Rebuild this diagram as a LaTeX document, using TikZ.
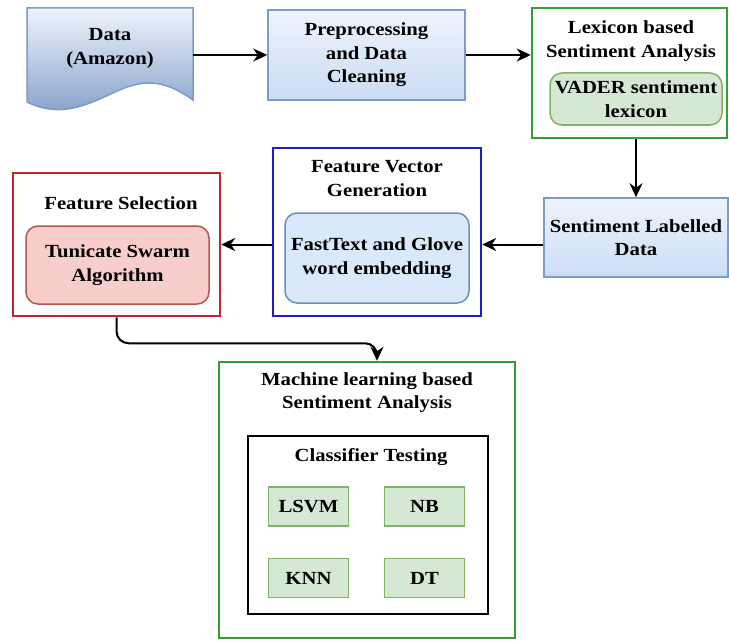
\documentclass[tikz,border=0pt]{standalone}
\usepackage{fontspec}
\setmainfont[FakeStretch=1.12]{Liberation Serif}
\usepackage{tikz}
\usetikzlibrary{positioning, arrows.meta}
\definecolor{outgreen}{RGB}{52,160,52}
\definecolor{outblue}{RGB}{30,30,200}
\definecolor{outred}{RGB}{190,40,40}
\definecolor{ingreenfill}{HTML}{D5E8D4}
\definecolor{ingreendraw}{HTML}{82B366}
\definecolor{inbluefill}{HTML}{DAE8FC}
\definecolor{inbluedraw}{HTML}{6C8EBF}
\definecolor{inredfill}{HTML}{F8CECC}
\definecolor{inreddraw}{HTML}{B85450}
\definecolor{boxtop}{HTML}{EEF4FC}
\definecolor{boxbot}{HTML}{CADCF4}
\definecolor{boxdraw}{HTML}{7D9BC9}
\tikzset{>={Stealth[length=14pt,width=13pt,inset=4.5pt]},
txt/.style={align=center, inner sep=0pt, font=\bfseries\fontsize{18.5}{23.5}\selectfont},
procbox/.style={txt, draw=boxdraw, line width=1.5pt, top color=boxtop, bottom color=boxbot},
outbox/.style={draw=#1, line width=2.5pt, fill=white, inner sep=0pt},
inbox/.style={txt, draw=in#1draw, fill=in#1fill, line width=1.5pt, rounded corners=12pt},
clsbox/.style={txt, draw=ingreendraw, fill=ingreenfill, line width=1.5pt, minimum width=80, minimum height=39},
conn/.style={->, line width=2pt}
}

\begin{document}
\begin{tikzpicture}[x=1pt, y=-1pt]
\useasboundingbox (0,0) rectangle (729,642);
% data source
\path[draw=boxdraw, line width=1.5pt, top color=boxtop, bottom color=inbluedraw!85]
  (27,8) -- (193,8) -- (193,100) .. controls (165,80) and (145,78) .. (115,92)
  .. controls (85,106) and (60,118) .. (27,102) -- cycle;
\node[txt] (data) at (110,48.5) {Data\\(Amazon)};
\coordinate (dataR) at (193,55);
\node[procbox, minimum width=197, minimum height=90] (prep) at (366.5,55) {Preprocessing\\and Data\\Cleaning};
% lexicon
\node[outbox=outgreen, minimum width=195, minimum height=130] (lex) at (629.5,73) {};
\node[txt] (lextitle) at (631,41) {Lexicon based\\Sentiment Analysis};
\node[inbox=green, minimum width=172, minimum height=52] (vader) at (636,99) {VADER sentiment\\lexicon};
\node[procbox, minimum width=184, minimum height=79] (sld) at (636,237.5) {Sentiment Labelled\\Data};
% feature vectors
\node[outbox=outblue, minimum width=208, minimum height=168] (fvg) at (377,232) {};
\node[txt] (fvgtitle) at (377,178.5) {Feature Vector\\Generation};
\node[inbox=blue, minimum width=184, minimum height=90] (emb) at (377,258) {FastText and Glove\\word embedding};
% feature selection
\node[outbox=outred, minimum width=207, minimum height=143] (fs) at (116.5,244.5) {};
\node[txt] (fstitle) at (121,203) {Feature Selection};
\node[inbox=red, minimum width=183, minimum height=78] (tsa) at (117.5,265) {Tunicate Swarm\\Algorithm};
% machine learning
\node[outbox=outgreen, minimum width=296, minimum height=276] (ml) at (367,500) {};
\node[txt] (mltitle) at (367,392.5) {Machine learning based\\Sentiment Analysis};
\node[draw=black, line width=2pt, minimum width=240, minimum height=178, inner sep=0pt] (ct) at (368,525) {};
\node[txt] (cttitle) at (371,457) {Classifier Testing};
\node[clsbox] (lsvm) at (308.5,506.5) {LSVM};
\node[clsbox] (nb) at (424.5,506.5) {NB};
\node[clsbox] (knn) at (308.5,578) {KNN};
\node[clsbox] (dt) at (424.5,578) {DT};
\draw[conn] (dataR) -- (prep.west |- dataR);
\draw[conn] (prep.east |- dataR) -- (lex.west |- dataR);
\draw[conn] (vader |- lex.south) -- (vader |- sld.north);
\draw[conn] (sld.west |- fs) -- (fvg.east |- fs);
\draw[conn] (fvg.west |- fs) -- (fs.east);
\draw[conn, rounded corners=12] (fs.south) -- ++(0,26) -| ([xshift=10]ml.north);
\end{tikzpicture}
\end{document}
